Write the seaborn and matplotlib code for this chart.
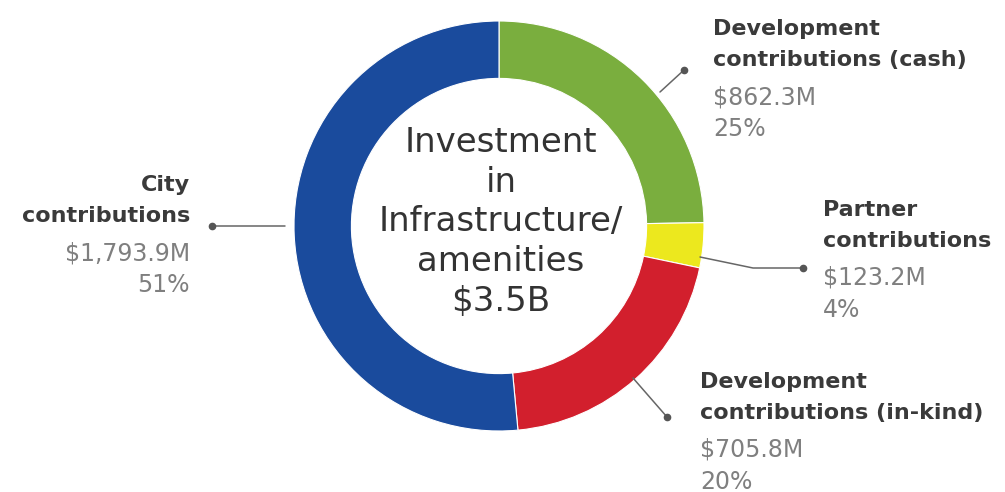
import matplotlib
matplotlib.use("Agg")
import matplotlib.pyplot as plt
import seaborn as sns

# data (clockwise from 12 o'clock)
categories = ["Development\ncontributions (cash)", "Partner\ncontributions",
              "Development\ncontributions (in-kind)", "City\ncontributions"]
amounts = [862.3, 123.2, 705.8, 1793.9]
amount_labels = ["$862.3M", "$123.2M", "$705.8M", "$1,793.9M"]
colors = ["#7aae3e", "#ece81e", "#d21f2d", "#1a4b9d"]
center_text = "Investment\nin\nInfrastructure/\namenities\n$3.5B"

sns.set_style("white")
plt.rcParams['font.family'] = ['DejaVu Sans']

W, H = 1005, 492
CX, CY, R = 499, 226, 205

fig = plt.figure(figsize=(W / 100, H / 100), dpi=100)
ax = fig.add_axes([0, 0, 1, 1])


def px(x, y):
    return (x - CX) / R, (CY - y) / R


ax.pie(amounts, colors=colors, startangle=90, counterclock=False, radius=1,
       wedgeprops=dict(width=0.28, edgecolor="white", linewidth=0.8))
ax.set_xlim(-CX / R, (W - CX) / R)
ax.set_ylim(-(H - CY) / R, CY / R)
ax.set_aspect("equal")
ax.axis("off")

total = sum(amounts)
pcts = [f"{round(a / total * 100)}%" for a in amounts]

# label layout: (x, y of first line, alignment, leader line points)
label_pos = [
    (713, 29, "left", [(660, 92), (684, 70)]),
    (823, 210, "left", [(700, 257), (753, 268), (803, 268)]),
    (700, 382, "left", [(633, 378), (667, 417)]),
    (190, 185, "right", [(285, 226), (212, 226)]),
]

dark = "#3a3a3a"
grey = "#7f7f7f"
for cat, amt, pct, (x, y, ha, pts) in zip(categories, amount_labels, pcts, label_pos):
    lines = cat.split("\n")
    for i, ln in enumerate(lines):
        ax.text(*px(x, y + i * 31), ln, ha=ha, va="center", fontsize=16,
                fontweight="bold", color=dark)
    y2 = y + 31 * (len(lines) - 1) + 37
    ax.text(*px(x, y2), amt, ha=ha, va="center", fontsize=17, color=grey)
    ax.text(*px(x, y2 + 32), pct, ha=ha, va="center", fontsize=17, color=grey)
    xs = [px(p[0], p[1])[0] for p in pts]
    ys = [px(p[0], p[1])[1] for p in pts]
    ax.plot(xs, ys, color="#666666", lw=1.1)
    ax.plot(xs[-1], ys[-1], "o", color="#555555", ms=4.5)

for i, ln in enumerate(center_text.split("\n")):
    ax.text(*px(CX + 2, 143 + i * 39.5), ln, ha="center", va="center",
            fontsize=24.5, color="#333333")

fig.savefig("out.png", dpi=100)
